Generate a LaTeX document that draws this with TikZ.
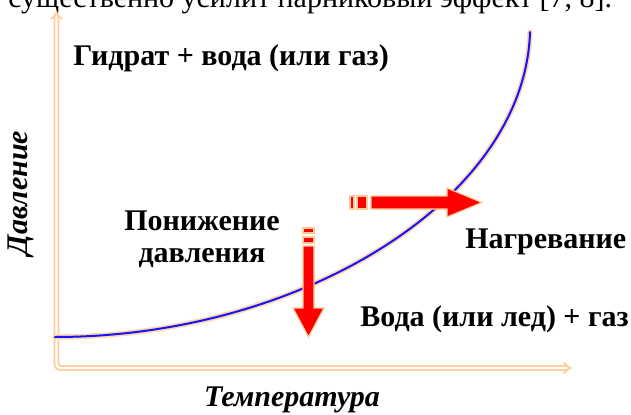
\documentclass[tikz,border=0pt]{standalone}
\usepackage{fontspec}
\setmainfont{Liberation Serif}
\usepackage{xcolor}
\usepackage{tikz}
\usetikzlibrary{arrows.meta, positioning, calc}
\definecolor{peach}{RGB}{255,204,153}
\definecolor{curveblue}{RGB}{20,20,255}
\tikzset{
  axis/.style={
    draw=peach, double=white,
    line width=1.4pt, double distance=1.6pt,
    rounded corners=3pt,
    {Implies[length=8pt]}-{Implies[length=8pt]}
  },
  halo/.style={draw=peach!80, line width=4pt, line cap=round},
  curve/.style={draw=curveblue, line width=1.5pt, line cap=round},
  redarrow/.style={fill=red, draw=peach, line width=0.9pt, line join=miter},
  label/.style={font=\fontsize{22.5}{24}\selectfont\bfseries, align=center},
  axislabel/.style={font=\fontsize{22.5}{24}\selectfont\bfseries\itshape},
}

\begin{document}
\begin{tikzpicture}[x=0.75pt, y=-0.75pt]
  \useasboundingbox (0,0) rectangle (631,414);
  \clip (0,0) rectangle (631,414);

  % Text line above the figure (cut off)
  \node[anchor=base west, inner sep=0pt, font=\fontsize{22.5}{24}\selectfont]
    (caption) at (8,7.5) {существенно усилит парниковый эффект [7,~8].};

  % Axes
  \draw[axis] (56.5,11) -- (56.5,368) -- (572,368);

  % Equilibrium curve
  \draw[halo] (55,337) .. controls (300,337) and (525,200) .. (530,32);
  \draw[curve] (55,337) .. controls (300,337) and (525,200) .. (530,32);

  % Heating arrow
  \draw[redarrow] (350,196) rectangle (354,209);
  \draw[redarrow] (357,196) rectangle (367,209);
  \draw[redarrow] (371,196) -- (447,196) -- (447,188) -- (482,202.5)
    -- (447,217) -- (447,209) -- (371,209) -- cycle;

  % Pressure drop arrow
  \draw[redarrow] (303,228) rectangle (314,233);
  \draw[redarrow] (303,237) rectangle (314,243);
  \draw[redarrow] (303,246) -- (303,308) -- (293,308) -- (308.5,337)
    -- (324,308) -- (314,308) -- (314,246) -- cycle;

  % Labels
  \node[label, anchor=base west, inner sep=0pt] (hydrate) at (73,65)
    {Гидрат + вода (или газ)};
  \node[label, anchor=base, inner sep=0pt] (drop) at (202,262)
    {Понижение\\давления};
  \node[label, anchor=base west, inner sep=0pt] (heat) at (465,248)
    {Нагревание};
  \node[label, anchor=base east, inner sep=0pt] (water) at (629,326)
    {Вода (или лед) + газ};
  \node[axislabel, rotate=90] (pressure) at (21,193) {Давление};
  \node[axislabel, anchor=base, inner sep=0pt] (temp) at (292,406)
    {Температура};
\end{tikzpicture}
\end{document}
